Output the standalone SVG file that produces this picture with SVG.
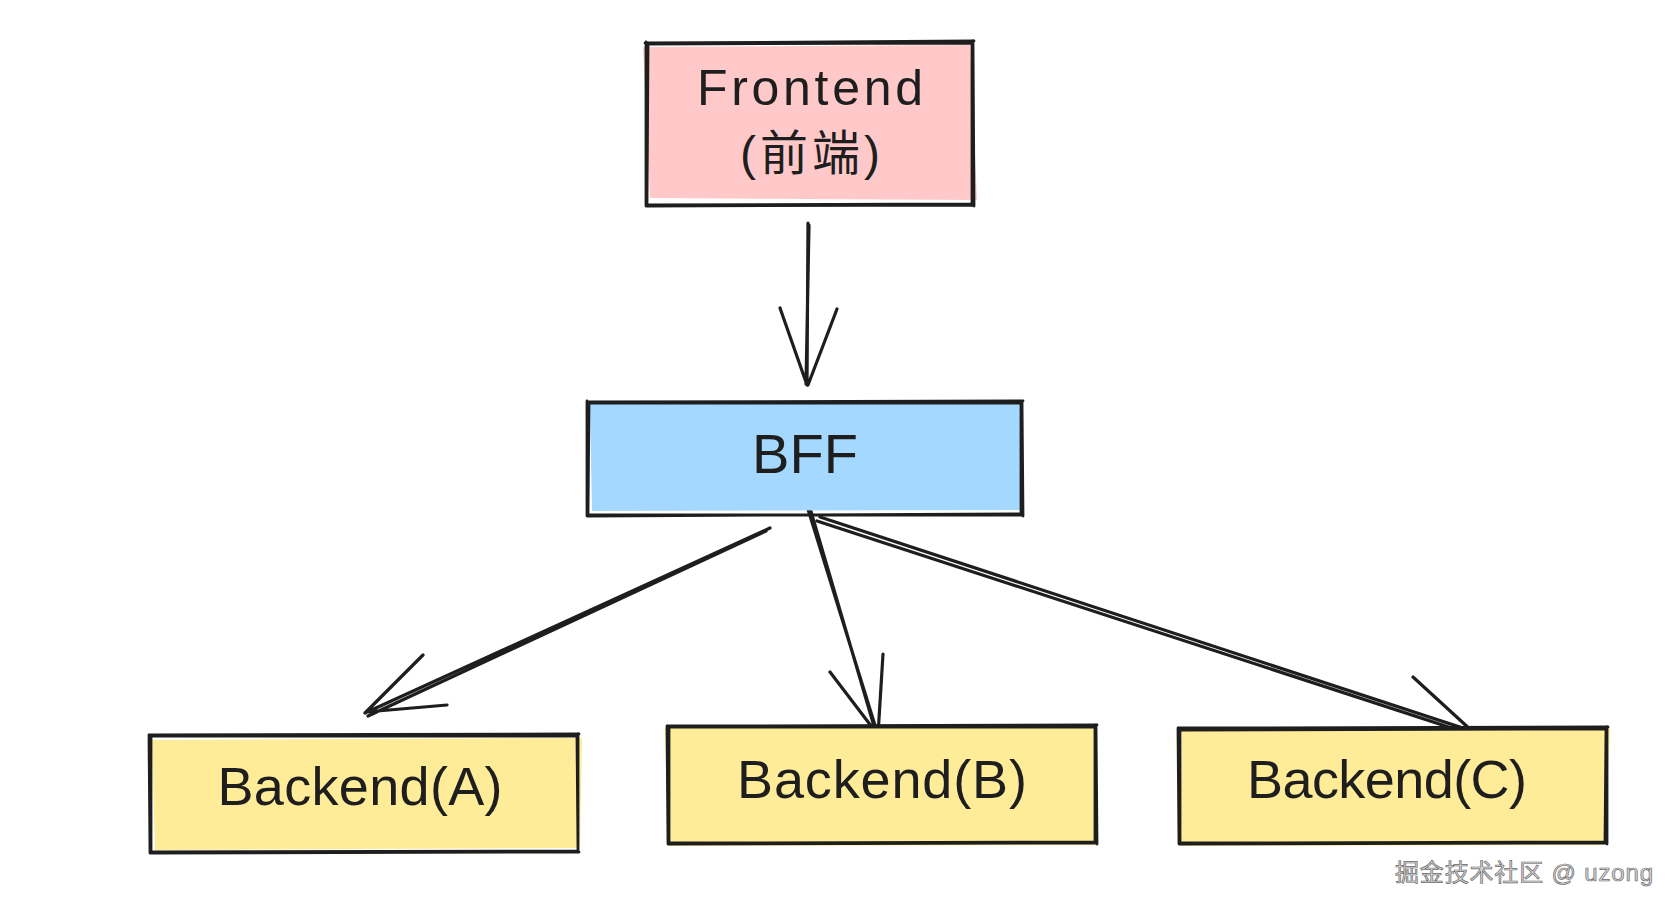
<svg xmlns="http://www.w3.org/2000/svg" width="1678" height="910" viewBox="0 0 1678 910">
<style>
.sk{fill:none;stroke:#1e1e1e;stroke-width:2.8;stroke-linecap:round;stroke-linejoin:round}
.ar{fill:none;stroke:#1e1e1e;stroke-width:3.2;stroke-linecap:round;stroke-linejoin:round}
.lbl{font-family:"Liberation Sans","Noto Sans CJK SC",sans-serif;fill:#1e1e1e;text-anchor:middle}
.wm{font-family:"Liberation Sans","Noto Sans CJK SC",sans-serif;font-size:24px;fill:#d9d9d9;stroke:#6a6a6a;stroke-width:0.7}
</style>
<rect width="1678" height="910" fill="#ffffff"/>
<g id="connectors">
  <path class="ar" d="M808,223 L807,385 M809,225 L806,384 M780,308 L807,385 M837,309 L808,385"/>
  <path class="ar" d="M770,528 L365,713 M766,531 L368,716 M423,655 L365,713 M447,705 L366,712"/>
  <path class="ar" d="M807,506 L878,735 M810,508 L876,733 M830,672 L878,735 M883,654 L878,735"/>
  <path class="ar" d="M820,517 L1472,731 M817,521 L1470,734 M1413,677 L1472,731 M1405,730 L1472,733"/>
</g>
<g id="frontend">
  <path d="M643,47 L970,45 L977,200 L650,198 Z" fill="#ffc9c9"/>
  <path class="sk" d="M645,43 L974,41 M647,44 L972,43 M973,41 L974,206 M972,44 L972,204 M974,205 L646,206 M972,204 L648,205 M646,206 L646,42 M647,204 L648,44"/>
  <text class="lbl" x="810" y="105" font-size="50" textLength="226" lengthAdjust="spacing">Frontend</text>
  <text class="lbl" x="810" y="170" font-size="48" textLength="140" lengthAdjust="spacing">(前端)</text>
</g>
<g id="bff">
  <path d="M590,404 L1020,403 L1021,510 L592,511 Z" fill="#a5d8ff"/>
  <path class="sk" d="M587,402 L1023,401 M589,403 L1021,403 M1022,401 L1023,516 M1021,404 L1021,514 M1023,515 L587,515 M1021,514 L589,516 M587,516 L587,401 M588,514 L589,404"/>
  <text class="lbl" x="805" y="473" font-size="56" textLength="106" lengthAdjust="spacing">BFF</text>
</g>
<g id="backend-a">
  <path d="M152,740 L582,738 L580,848 L155,850 Z" fill="#ffec99"/>
  <path class="sk" d="M150,735 L579,734 M152,736 L577,736 M578,734 L578,852 M577,737 L578,851 M579,852 L150,853 M577,851 L152,852 M150,853 L149,735 M151,851 L151,737"/>
  <text class="lbl" x="360" y="805" font-size="54" textLength="285" lengthAdjust="spacing">Backend(A)</text>
</g>
<g id="backend-b">
  <path d="M665,728 L1094,727 L1096,845 L668,846 Z" fill="#ffec99"/>
  <path class="sk" d="M668,726 L1097,725 M670,727 L1095,727 M1096,725 L1097,844 M1095,728 L1095,842 M1097,843 L668,844 M1095,842 L670,843 M668,844 L667,726 M669,842 L669,728"/>
  <text class="lbl" x="882" y="798" font-size="54" textLength="290" lengthAdjust="spacing">Backend(B)</text>
</g>
<g id="backend-c">
  <path d="M1182,728 L1610,727 L1605,845 L1180,846 Z" fill="#ffec99"/>
  <path class="sk" d="M1179,728 L1608,727 M1181,730 L1606,729 M1607,727 L1607,844 M1606,730 L1605,842 M1607,843 L1179,844 M1605,842 L1181,843 M1179,844 L1178,728 M1180,842 L1180,730"/>
  <text class="lbl" x="1387" y="798" font-size="54" textLength="280" lengthAdjust="spacing">Backend(C)</text>
</g>
<text class="wm" x="1395" y="881" textLength="258" lengthAdjust="spacing">掘金技术社区 @ uzong</text>
</svg>
